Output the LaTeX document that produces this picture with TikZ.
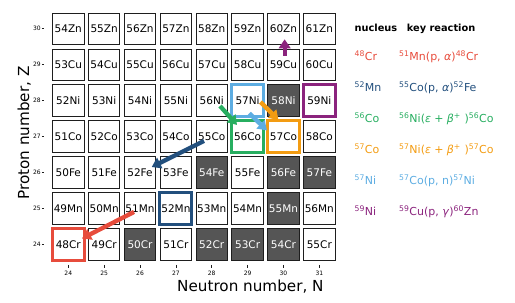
\documentclass[tikz,border=0pt]{standalone}
\usepackage{fontspec}
\setmainfont{DejaVu Sans}
\usepackage{tikz}
\usetikzlibrary{arrows.meta,positioning,calc}
\definecolor{crred}{RGB}{231,76,60}
\definecolor{mnblue}{RGB}{34,79,125}
\definecolor{cogreen}{RGB}{39,174,96}
\definecolor{coorange}{RGB}{243,156,18}
\definecolor{niblue}{RGB}{93,173,226}
\definecolor{nipurple}{RGB}{139,35,125}
\definecolor{stablegray}{RGB}{85,85,85}
\definecolor{cellline}{RGB}{30,30,30}
\newcommand{\isot}[2]{\textsuperscript{#1}#2}
\newcommand{\ecbeta}{(\textit{ε}\hspace{0.3em}+\hspace{0.3em}\textit{β}\textsuperscript{+}\hspace{0.35em})}
\tikzset{
  cell/.style={draw=cellline, line width=1pt, fill=white, inner sep=0pt,
               minimum width=31.4pt, minimum height=31.4pt,
               font=\fontsize{10.5}{12}\selectfont},
  stable/.style={fill=stablegray, text=white},
  hl/.style={draw=#1, line width=3pt, minimum width=32pt, minimum height=32pt},
  arr/.style={line width=4.3pt, -{Triangle[length=9pt,width=11.5pt]}},
  tick/.style={line width=0.6pt, draw=cellline},
  ticklbl/.style={inner sep=0pt, font=\fontsize{6}{7}\selectfont},
  axlbl/.style={inner sep=0pt, anchor=base, font=\fontsize{15.2}{17}\selectfont},
  hdr/.style={inner sep=0pt, anchor=base west, font=\bfseries\fontsize{9.8}{12}\selectfont},
  lgd/.style={inner sep=0pt, anchor=base west, font=\fontsize{11}{13}\selectfont},
  % stable nuclei
  is 58Ni/.style=stable, is 54Fe/.style=stable, is 56Fe/.style=stable,
  is 57Fe/.style=stable, is 55Mn/.style=stable, is 50Cr/.style=stable,
  is 52Cr/.style=stable, is 53Cr/.style=stable, is 54Cr/.style=stable,
  % nuclei of interest
  is 48Cr/.style={hl=crred},   is 52Mn/.style={hl=mnblue},
  is 56Co/.style={hl=cogreen}, is 57Co/.style={hl=coorange},
  is 57Ni/.style={hl=niblue},  is 59Ni/.style={hl=nipurple}
}

\begin{document}
\begin{tikzpicture}[x=1pt, y=1pt]
  \useasboundingbox (0,0) rectangle (515,303);

  \begin{scope}[shift={(-792.34pt,-804.3pt)}, x=35.86pt, y=35.95pt]
    % chart of nuclides
    \foreach \z/\el in {24/Cr,25/Mn,26/Fe,27/Co,28/Ni,29/Cu,30/Zn}
      \foreach \n in {24,...,31}{
        \pgfmathtruncatemacro\a{\n+\z}
        \edef\mk{\noexpand\node[cell, is \a\el/.try] (n\a\el) at (\n,\z) {\a\el};}
        \mk
      }
    % ticks
    \foreach \z in {24,...,30}{
      \draw[tick] (23.261,\z) -- (23.336,\z);
      \node[ticklbl, anchor=east] (zt\z) at (23.235,\z) {\z};
    }
    \foreach \n in {24,...,31}{
      \draw[tick] (\n,23.43) -- (\n,23.36);
      \node[ticklbl] (nt\n) at (\n,23.199) {\n};
    }
  \end{scope}

  % reaction arrows
  \draw[arr, crred]    ($(n51Mn)+(-6pt,-3.4pt)$)  -- ($(n48Cr)+(13.7pt,6pt)$);
  \draw[arr, mnblue]   ($(n55Co)+(-7.7pt,-4.3pt)$) -- ($(n52Fe)+(11.7pt,5.6pt)$);
  \draw[arr, cogreen]  ($(n56Ni)+(8.3pt,-5.3pt)$)  -- ($(n56Co)+(-10.6pt,11.7pt)$);
  \draw[arr, coorange] ($(n57Ni)+(12.9pt,-1.3pt)$) -- ($(n57Co)+(-5pt,16.7pt)$);
  \draw[arr, niblue]   ($(n57Ni)+(1.7pt,-12.6pt)$) -- ($(n57Co)+(-16.5pt,6.2pt)$);
  \draw[arr, nipurple] ($(n59Cu)+(1.2pt,8.8pt)$)   -- ($(n60Zn)+(1.2pt,-10.5pt)$);

  % axis labels
  \node[axlbl] (xlab) at (250.4,11.7) {Neutron number, N};
  \node[axlbl, rotate=90] (ylab) at (29,170) {Proton number, Z};

  % legend
  \node[hdr] (hnuc) at (354.5,271.5) {nucleus};
  \node[hdr] (hrxn) at (406.7,271.5) {key reaction};
  \foreach \i/\c/\nuc/\rxn in {
      1/crred/{\isot{48}{Cr}}/{\isot{51}{Mn}(p, \textit{α})\isot{48}{Cr}},
      2/mnblue/{\isot{52}{Mn}}/{\isot{55}{Co}(p, \textit{α})\isot{52}{Fe}},
      3/cogreen/{\isot{56}{Co}}/{\isot{56}{Ni}\ecbeta\isot{56}{Co}},
      4/coorange/{\isot{57}{Co}}/{\isot{57}{Ni}\ecbeta\isot{57}{Co}},
      5/niblue/{\isot{57}{Ni}}/{\isot{57}{Co}(p, n)\isot{57}{Ni}},
      6/nipurple/{\isot{59}{Ni}}/{\isot{59}{Cu}(p, \textit{γ})\isot{60}{Zn}}}{
    \node[lgd, text=\c] (lnuc\i) at (354.5,273.3-31*\i) {\nuc};
    \node[lgd, text=\c] (lrxn\i) at (399,273.3-31*\i) {\rxn};
  }
\end{tikzpicture}
\end{document}
